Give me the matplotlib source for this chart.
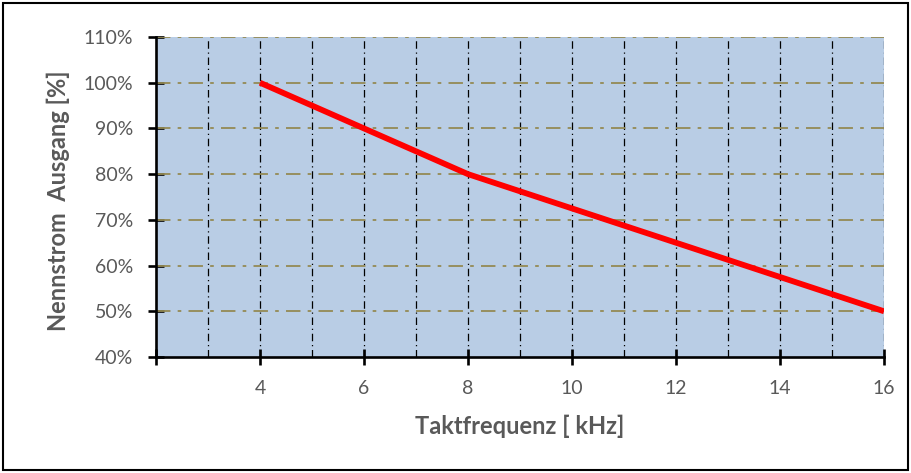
import matplotlib.pyplot as plt
from matplotlib.patches import Rectangle
import numpy as np

# Taktfrequenz in kHz und Nennstrom in %
freq = [4, 6, 8, 10, 12, 14, 16]
strom = [100, 90, 80, 72.5, 65, 57.5, 50]
xticks = [2, 4, 6, 8, 10, 12, 14, 16]
xlabels = ["", "4", "6", "8", "10", "12", "14", "16"]
yticks = [40, 50, 60, 70, 80, 90, 100, 110]

plt.rcParams['font.family'] = ['Lato', 'DejaVu Sans']
grau = '#595959'
W, H = 912, 473

fig = plt.figure(figsize=(W/100, H/100), dpi=100)
ax = fig.add_axes([156/W, 1 - 357/H, (884-156)/W, (357-37)/H])
ax.set_facecolor('#B9CDE5')

ax.plot(freq, strom, color='#FF0000', lw=4.2, solid_capstyle='butt', zorder=5)

ax.set_xlim(2, 16)
ax.set_ylim(40, 110)
ax.set_xticks(xticks)
ax.set_xticklabels(xlabels)
ax.set_yticks(yticks)
ax.set_yticklabels([f"{v}%" for v in yticks])

# Gitter
for v in range(3, 17):
    ax.axvline(v, color='black', lw=0.9, ls=(0, (6, 3, 1, 3)), zorder=2)
for v in yticks[1:]:
    ax.axhline(v, color='#948A54', lw=1.3, ls=(0, (8, 4, 2, 4)), zorder=2)

for s in ['top', 'right']:
    ax.spines[s].set_visible(False)
for s in ['left', 'bottom']:
    ax.spines[s].set_linewidth(1.9)
    ax.spines[s].set_zorder(6)

ax.tick_params(direction='inout', length=11, width=1.9, colors='black',
               labelcolor=grau, labelsize=14)
ax.tick_params(axis='x', pad=11)
ax.tick_params(axis='y', pad=11)

fig.text(520/W, 1 - 426/H, 'Taktfrequenz [ kHz]', fontsize=17, fontweight='bold',
         color=grau, ha='center', va='center')
fig.text(58/W, 1 - 201/H, 'Nennstrom  Ausgang [%]', fontsize=17, fontweight='bold',
         color=grau, ha='center', va='center', rotation=90)

fig.patches.append(Rectangle((3/W, 3/H), 905/W, 467/H, transform=fig.transFigure,
                             fill=False, edgecolor='black', lw=1.5))

fig.savefig('out.png', dpi=100)
